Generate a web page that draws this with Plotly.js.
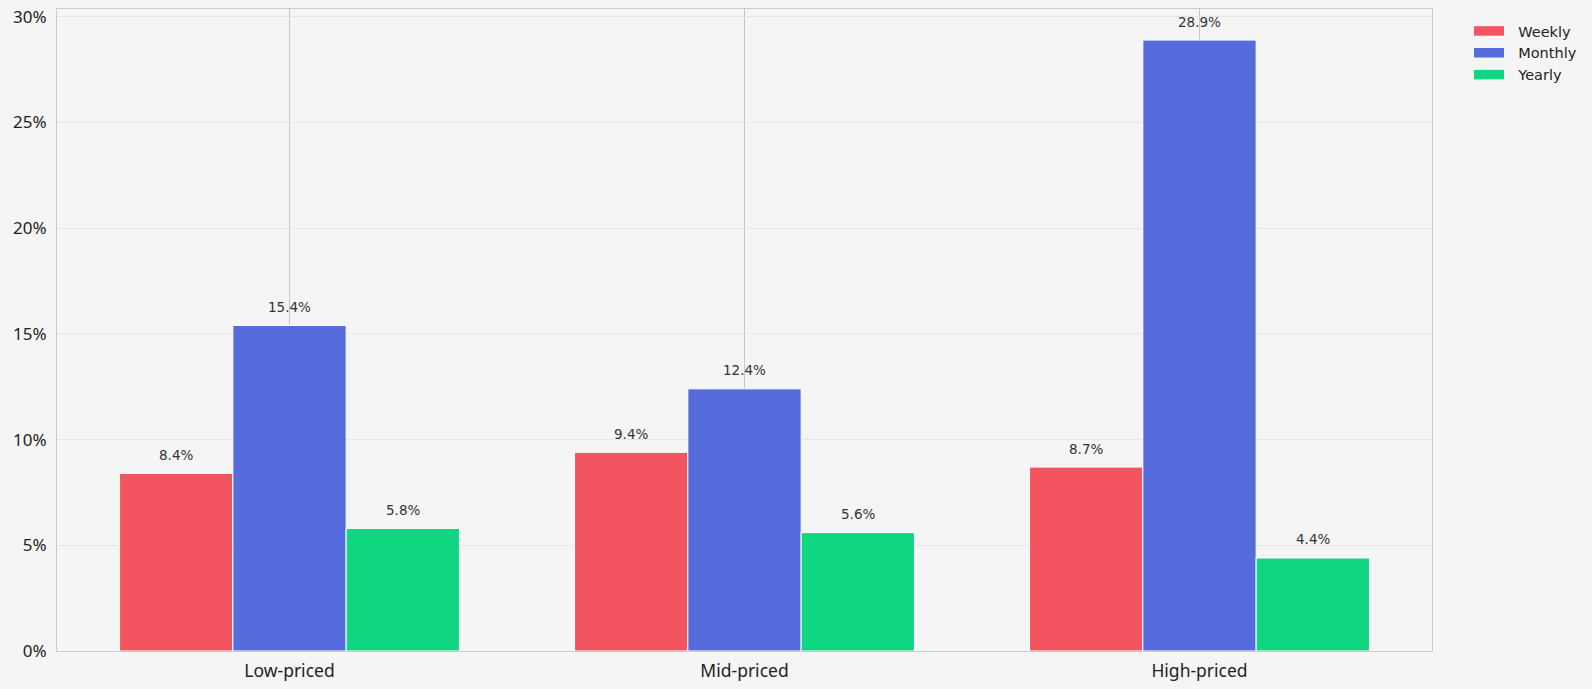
<!DOCTYPE html>
<html>
<head>
<meta charset="utf-8">
<script src="https://cdn.plot.ly/plotly-3.0.1.min.js"></script>
<style>
  html, body { margin: 0; padding: 0; overflow: hidden; background: #f5f5f5; }
  #chart { width: 1592px; height: 689px; }
</style>
</head>
<body>
<div id="chart"></div>
<script>
let categories = ["Low-priced", "Mid-priced", "High-priced"];
let series_names = ["Weekly", "Monthly", "Yearly"];
let weekly = [8.4, 9.4, 8.7];
let monthly = [15.4, 12.4, 28.9];
let yearly = [5.8, 5.6, 4.4];
let y_ticks = [0, 5, 10, 15, 20, 25, 30];

let colors = ["#f25560", "#566cdc", "#10d681"];
let all_values = [weekly, monthly, yearly];

let data = [];
let annotations = [];
let bar_px = 113.5; // one bar in pixels, used to shift the labels

for (let s = 0; s < all_values.length; ++s) {
    data.push({
        type: 'bar',
        name: series_names[s],
        x: categories,
        y: all_values[s],
        legendgroup: series_names[s],
        showlegend: false,
        marker: { color: colors[s], line: { color: '#ffffff', width: 1 } },
        hoverinfo: 'x+y'
    });
    for (let c = 0; c < categories.length; ++c) {
        annotations.push({
            x: categories[c],
            y: all_values[s][c],
            xref: 'x',
            yref: 'y',
            xshift: (s - 1) * bar_px,
            yshift: 8.5,
            yanchor: 'bottom',
            text: all_values[s][c].toFixed(1) + '%',
            showarrow: false,
            font: { family: 'DejaVu Sans', size: 13.5, color: '#333333' }
        });
    }
}

// wide legend swatches, like the original; nbsp keeps a gap before the name
for (let s = 0; s < series_names.length; ++s) {
    data.push({
        type: 'scatter',
        mode: 'lines',
        name: '\u00a0\u00a0' + series_names[s],
        legendgroup: series_names[s],
        x: [null],
        y: [null],
        line: { color: colors[s], width: 9.5 },
        hoverinfo: 'skip'
    });
}

let layout = {
    width: 1592,
    height: 689,
    paper_bgcolor: '#f5f5f5',
    plot_bgcolor: '#f5f5f5',
    margin: { l: 57, r: 160, t: 9, b: 38, autoexpand: false },
    barmode: 'group',
    bargap: 0.253,
    bargroupgap: 0,
    font: { family: 'Noto Sans', size: 17, color: '#222222' },
    xaxis: {
        type: 'category',
        range: [-0.511, 2.511],
        automargin: false,
        showgrid: true,
        gridcolor: '#c8c8c8',
        gridwidth: 1,
        showline: true,
        linecolor: '#cccccc',
        linewidth: 1,
        mirror: true,
        ticks: 'outside',
        ticklen: 4,
        tickcolor: 'rgba(0,0,0,0)',
        tickfont: { family: 'Noto Sans', size: 17.5, color: '#222222' }
    },
    yaxis: {
        range: [0, 30.37],
        automargin: false,
        tickvals: y_ticks,
        ticktext: y_ticks.map(v => v + '%'),
        showgrid: true,
        gridcolor: '#e6e6e6',
        gridwidth: 1,
        zeroline: false,
        showline: true,
        linecolor: '#cccccc',
        linewidth: 1,
        mirror: true,
        ticks: 'outside',
        ticklen: 6,
        tickcolor: 'rgba(0,0,0,0)',
        tickfont: { family: 'Noto Sans', size: 17, color: '#222222' }
    },
    legend: {
        xref: 'container',
        yref: 'container',
        x: 1469 / 1592,
        y: 1 - 15 / 689,
        xanchor: 'left',
        yanchor: 'top',
        tracegroupgap: 0,
        bgcolor: 'rgba(0,0,0,0)',
        font: { family: 'DejaVu Sans', size: 14.5, color: '#222222' }
    },
    annotations: annotations
};

Plotly.newPlot('chart', data, layout, { displayModeBar: false });
</script>
</body>
</html>
